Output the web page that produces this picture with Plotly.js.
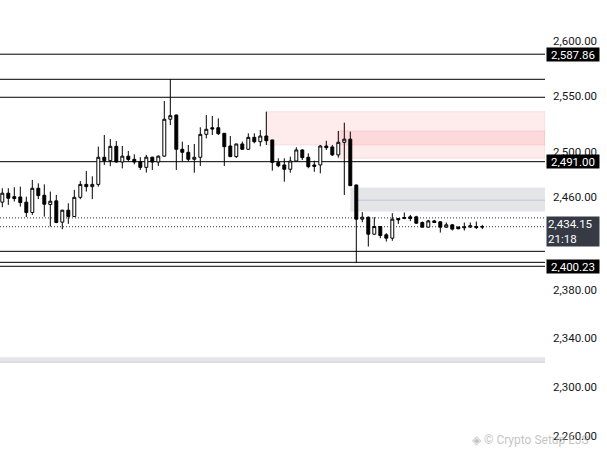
<!DOCTYPE html>
<html><head><meta charset="utf-8">
<script src="https://cdn.plot.ly/plotly-3.0.1.min.js"></script>
<style>html,body{margin:0;padding:0;background:#fff;overflow:hidden}#chart{width:607px;height:455px}</style>
</head><body><div id="chart"></div>
<script>
// OHLC candles
const openP  = [2455.5,2463.3,2460.3,2460.0,2455.5,2446.5,2467.6,2461.5,2453.4,2456.6,
                2438.1,2448.5,2443.0,2459.7,2471.0,2469.0,2471.0,2494.9,2491.9,2504.6,
                2490.7,2495.9,2493.1,2490.9,2486.0,2495.0,2490.7,2495.9,2528.8,2532.6,
                2502.0,2499.3,2493.1,2494.9,2515.3,2521.2,2521.2,2516.2,2504.9,2495.5,
                2506.7,2502.0,2512.6,2508.7,2513.8,2510.3,2490.4,2488.1,2484.3,2491.6,
                2501.4,2494.9,2488.1,2488.1,2504.9,2504.1,2497.0,2508.2,2511.0,2470.5,
                2440.7,2442.4,2427.7,2434.3,2427.2,2424.3,2441.3,2441.3,2442.7,2442.7,
                2437.8,2433.8,2439.2,2438.4,2433.8,2435.8,2433.9,2433.2,2433.9,2434.3,
                2434.0];
const highP  = [2467.6,2467.6,2468.5,2469.0,2460.3,2474.9,2471.9,2471.0,2464.7,2461.8,
                2448.8,2454.5,2466.2,2473.9,2482.8,2478.1,2504.3,2514.7,2511.1,2509.4,
                2504.9,2500.5,2497.5,2495.0,2497.0,2495.3,2496.5,2545.2,2564.9,2533.0,
                2508.8,2505.8,2506.7,2521.6,2532.6,2531.7,2529.6,2516.5,2513.8,2506.9,
                2508.8,2516.2,2516.2,2519.2,2535.6,2510.5,2494.0,2494.0,2495.5,2503.8,
                2502.0,2498.4,2491.9,2505.8,2509.6,2505.8,2518.3,2525.7,2517.7,2470.8,
                2446.8,2443.0,2442.4,2434.5,2428.6,2445.9,2441.5,2446.5,2444.4,2443.6,
                2438.7,2440.1,2440.1,2438.7,2437.8,2436.4,2434.1,2437.8,2437.8,2438.7,
                2435.8];
const lowP   = [2451.1,2453.1,2456.0,2451.6,2442.5,2444.4,2458.1,2442.9,2434.3,2437.2,
                2432.0,2436.6,2442.6,2458.1,2464.7,2458.1,2469.0,2488.1,2487.0,2490.2,
                2485.1,2491.3,2488.7,2483.7,2481.4,2483.7,2487.2,2495.3,2523.6,2483.7,
                2491.3,2491.3,2481.3,2487.2,2511.7,2514.7,2514.7,2487.2,2495.0,2494.3,
                2501.4,2501.4,2507.3,2504.6,2505.8,2483.1,2486.1,2473.4,2481.3,2491.0,
                2492.5,2485.2,2482.1,2480.8,2501.4,2496.1,2494.6,2461.8,2469.5,2403.6,
                2438.1,2417.1,2427.4,2424.3,2421.4,2422.0,2436.6,2440.7,2439.0,2436.6,
                2433.5,2433.5,2437.5,2429.1,2433.0,2430.9,2432.1,2430.9,2433.0,2432.1,
                2432.1];
const closeP = [2463.3,2458.9,2458.6,2455.1,2446.5,2467.6,2461.2,2453.7,2456.3,2437.8,
                2448.5,2443.0,2459.7,2471.0,2469.0,2471.0,2494.9,2491.9,2504.6,2490.7,
                2495.9,2493.0,2490.7,2486.0,2495.0,2490.7,2495.9,2528.8,2532.0,2502.0,
                2499.3,2493.1,2494.9,2515.3,2519.8,2520.1,2515.9,2504.3,2495.5,2506.7,
                2502.0,2512.6,2508.7,2513.8,2509.6,2490.4,2487.4,2484.3,2491.6,2501.4,
                2494.6,2486.6,2486.9,2504.9,2503.4,2497.0,2508.2,2511.0,2469.9,2440.7,
                2442.4,2427.7,2434.3,2426.6,2424.3,2440.7,2440.1,2442.1,2441.3,2437.2,
                2433.8,2439.2,2437.8,2433.8,2435.8,2432.1,2432.4,2433.9,2435.0,2433.6,
                2434.15];

// Axis ticks
const tickVals = [2260, 2300, 2340, 2380, 2460, 2500, 2550, 2600];
const tickText = ['2,260.00','2,300.00','2,340.00','2,380.00','2,460.00','2,500.00','2,550.00','2,600.00'];

// Drawn levels
const solidLevels  = [2587.86, 2564.9, 2548.6, 2491.0, 2413.0, 2403.6, 2400.23];
const dottedLevels = [2441.8, 2434.15];
const labelLevels  = [2587.86, 2491.00, 2400.23];
const lastPrice = 2434.15;
const countdown = '21:18';
const watermark = '◈ © Crypto Setup EJS';

// Zones (start candle index, top price, bottom price)
const pinkStart  = [44, 56];
const pinkTop    = [2535.6, 2518.3];
const pinkBottom = [2505.8, 2494.0];
const greyStart  = [58];
const greyTop    = [2468.2];
const greyBottom = [2447.3];
const greyMid    = [2457.2];
const bandTop    = [2324.0];
const bandBottom = [2319.8];

const candleIndex = openP.map((_, i) => i);
const xRange = [-0.383, 90.45];
const yRange = [3.351169, 3.421292];

const fmt = v => v.toLocaleString('en-US', {minimumFractionDigits: 2, maximumFractionDigits: 2});

const shapes = [];
pinkStart.forEach((s, i) => shapes.push({type:'rect', xref:'x', yref:'y', x0:s, x1:xRange[1],
  y0:pinkBottom[i], y1:pinkTop[i], fillcolor:'rgba(242,54,69,0.10)', line:{color:'rgba(242,54,69,0.12)', width:1}, layer:'below'}));
greyStart.forEach((s, i) => {
  shapes.push({type:'rect', xref:'x', yref:'y', x0:s, x1:xRange[1], y0:greyBottom[i], y1:greyTop[i],
    fillcolor:'rgba(120,123,134,0.2)', line:{width:0}, layer:'below'});
  shapes.push({type:'line', xref:'x', yref:'y', x0:s+1, x1:xRange[1], y0:greyMid[i], y1:greyMid[i],
    line:{color:'rgba(149,117,205,0.35)', width:1}, layer:'below'});
});
bandTop.forEach((t, i) => {
  shapes.push({type:'rect', xref:'paper', yref:'y', x0:0, x1:1, y0:bandBottom[i], y1:t,
    fillcolor:'rgba(120,123,134,0.2)', line:{width:0}, layer:'below'});
  shapes.push({type:'line', xref:'paper', yref:'y', x0:0, x1:1, y0:bandBottom[i], y1:bandBottom[i],
    line:{color:'rgba(149,117,205,0.3)', width:1}, layer:'below'});
});
solidLevels.forEach(v => shapes.push({type:'line', xref:'paper', yref:'y', x0:0, x1:1, y0:v, y1:v,
  line:{color:'#000', width:1}, layer:'below'}));
dottedLevels.forEach(v => shapes.push({type:'line', xref:'paper', yref:'y', x0:0, x1:1, y0:v, y1:v,
  line:{color:'#333', width:1, dash:'1px,2px'}, layer:'below'}));

const annotations = [{
  xref:'paper', yref:'paper', x:1, y:0.033, xanchor:'right', yanchor:'middle', xshift:46,
  text:watermark, showarrow:false,
  font:{family:'Roboto, Arial, sans-serif', size:12, color:'rgba(175,175,175,0.75)'}
}];
labelLevels.forEach(v => annotations.push({
  xref:'paper', yref:'y', x:1, y:Math.log10(v), xanchor:'left', yanchor:'middle', xshift:1,
  text:fmt(v), showarrow:false, bgcolor:'#000', width:50, height:11, borderpad:1,
  font:{family:'Roboto, Arial, sans-serif', size:11.5, color:'#fff'}
}));
annotations.push({
  xref:'paper', yref:'y', x:1, y:Math.log10(lastPrice), xanchor:'left', yanchor:'middle', xshift:1, yshift:-5,
  text:fmt(lastPrice) + '<br>' + countdown, showarrow:false, bgcolor:'#363a45', width:50, height:27, borderpad:1,
  align:'left', font:{family:'Roboto, Arial, sans-serif', size:11.5, color:'#fff'}
});

const trace = {
  type:'candlestick', x:candleIndex, open:openP, high:highP, low:lowP, close:closeP,
  increasing:{line:{color:'#000', width:1}, fillcolor:'#fff'},
  decreasing:{line:{color:'#000', width:1}, fillcolor:'#000'},
  whiskerwidth:0, hoverinfo:'skip', showlegend:false
};

const layout = {
  width:607, height:455, margin:{l:0, r:62, t:0, b:0},
  paper_bgcolor:'#fff', plot_bgcolor:'#fff', showlegend:false,
  xaxis:{range:xRange, visible:false, rangeslider:{visible:false}, fixedrange:true},
  yaxis:{type:'log', range:yRange, side:'right', tickvals:tickVals, ticktext:tickText,
    showgrid:false, zeroline:false, showline:false, ticks:'', ticklabelstandoff:7,
    tickfont:{family:'Roboto, Arial, sans-serif', size:11.5, color:'#131722'}, fixedrange:true},
  shapes:shapes, annotations:annotations
};

Plotly.newPlot('chart', [trace], layout, {staticPlot:true, displayModeBar:false});
</script></body></html>
